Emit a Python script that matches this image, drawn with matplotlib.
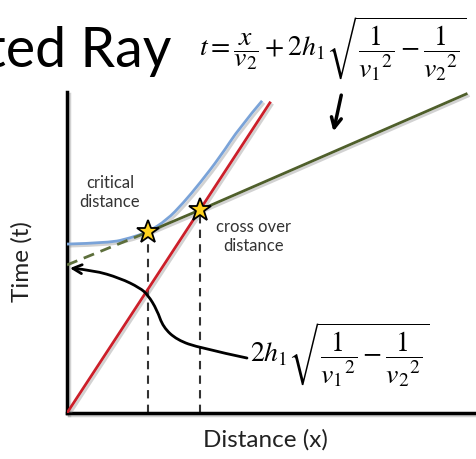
import numpy as np
import matplotlib
matplotlib.use("Agg")
import matplotlib.pyplot as plt
from matplotlib.path import Path
from matplotlib.patches import PathPatch, FancyArrowPatch
import matplotlib.patheffects as pe

plt.rcParams['font.family'] = ['Lato', 'DejaVu Sans']
plt.rcParams['mathtext.fontset'] = 'stix'

# travel-time curves (distance, time), schematic units
direct_x = [0.0, 4.96]
direct_t = [0.0, 7.73]

refr_x = [0.0, 1.98, 3.25, 9.76]     # intercept, critical, crossover, end
refr_t = [3.69, 4.51, 5.06, 7.95]

refl_x = [0.0, 1.05, 1.54, 1.98, 2.44, 2.84, 3.25, 3.74, 4.23, 4.77]
refl_t = [4.21, 4.24, 4.36, 4.51, 4.81, 5.23, 5.73, 6.38, 7.13, 7.78]

# critical distance and cross over distance
star_x = [1.98, 3.25]
star_t = [4.51, 5.06]

# curved pointer from the intercept formula to the intercept time
ptr_x = [4.40, 3.25, 2.69, 2.35, 2.20, 1.98, 1.78, 1.30, 0.64, 0.07]
ptr_t = [1.37, 1.62, 1.82, 2.14, 2.57, 2.94, 3.12, 3.36, 3.56, 3.61]

# short pointer to the refracted line
top_ptr_x = [6.72, 6.50]
top_ptr_t = [7.99, 6.95]


def smooth_path(xs, ys):
    # quadratic segments through midpoints, ends on the last point
    pts = list(zip(xs, ys))
    verts = [pts[0]]
    codes = [Path.MOVETO]
    for i in range(1, len(pts) - 1):
        mid = ((pts[i][0] + pts[i + 1][0]) / 2, (pts[i][1] + pts[i + 1][1]) / 2)
        if i == len(pts) - 2:
            mid = pts[-1]
        verts += [pts[i], mid]
        codes += [Path.CURVE3, Path.CURVE3]
    return Path(verts, codes)


shadow = [pe.SimpleLineShadow(offset=(1.5, -1.5), shadow_color='gray', alpha=0.35), pe.Normal()]

fig = plt.figure(figsize=(4.76, 4.59), dpi=100)
ax = fig.add_axes([67 / 476, 1 - 413 / 459, 1 - 67 / 476, 321 / 459])
ax.set_xlim(0, 10)
ax.set_ylim(0, 8)
ax.set_xticks([])
ax.set_yticks([])
for s in ['top', 'right']:
    ax.spines[s].set_visible(False)
for s in ['left', 'bottom']:
    ax.spines[s].set_linewidth(2.5)
    ax.spines[s].set_path_effects(shadow)

# reflected (blue)
blue = PathPatch(smooth_path(refl_x, refl_t), fill=False, ec='#7aa3d8', lw=2, zorder=3)
blue.set_path_effects(shadow)
ax.add_patch(blue)

# refracted (green), dashed back to the intercept
ax.plot(refr_x[:2], refr_t[:2], color='#5d6f3c', lw=2, ls=(0, (4, 2.5)), zorder=3)
ax.plot(refr_x[1:], refr_t[1:], color='#4f5f2b', lw=2, zorder=3, path_effects=shadow)

# direct (red)
ax.plot(direct_x, direct_t, color='#cc1f2a', lw=2, zorder=4, path_effects=shadow)

# drop lines to the distance axis
for x, t in zip(star_x, star_t):
    ax.plot([x, x], [0, t], color='#333333', lw=1.5, ls=(0, (4, 3)), zorder=2)
ax.plot(star_x, star_t, ls='none', marker='*', ms=17, mfc='#ffd21f', mec='k', mew=1.3, zorder=6)

arr = FancyArrowPatch(path=smooth_path(ptr_x, ptr_t), arrowstyle='->', mutation_scale=16,
                      lw=2, color='k', zorder=5)
ax.add_patch(arr)
ax.annotate('', xy=(top_ptr_x[1], top_ptr_t[1]), xytext=(top_ptr_x[0], top_ptr_t[0]),
            arrowprops=dict(arrowstyle='->', lw=2.5, color='k', mutation_scale=18),
            annotation_clip=False)

ax.text(1.05, 5.5, 'critical\ndistance', ha='center', va='center', fontsize=12,
        color='#333333', linespacing=1.2)
ax.text(4.55, 4.4, 'cross over\ndistance', ha='center', va='center', fontsize=12,
        color='#333333', linespacing=1.2)

fig.text(22 / 476, 1 - 262 / 459, 'Time (t)', rotation=90, ha='center', va='center',
         fontsize=17.5, color='#222222')
fig.text(265 / 476, 1 - 440 / 459, 'Distance (x)', ha='center', va='center',
         fontsize=17.5, color='#222222')

fig.text(171 / 476, 1 - 67 / 459, 'Refracted Ray', ha='right', va='baseline', fontsize=40,
         color='black')

fig.text(199 / 476, 1 - 49 / 459,
         r'$t=\dfrac{x}{v_2}+2h_1\sqrt{\dfrac{1}{{v_1}^{2}}-\dfrac{1}{{v_2}^{2}}}$',
         ha='left', va='center', fontsize=20)
fig.text(250 / 476, 1 - 355 / 459,
         r'$2h_1\sqrt{\dfrac{1}{{v_1}^{2}}-\dfrac{1}{{v_2}^{2}}}$',
         ha='left', va='center', fontsize=20)

fig.savefig('out.png', dpi=100)
